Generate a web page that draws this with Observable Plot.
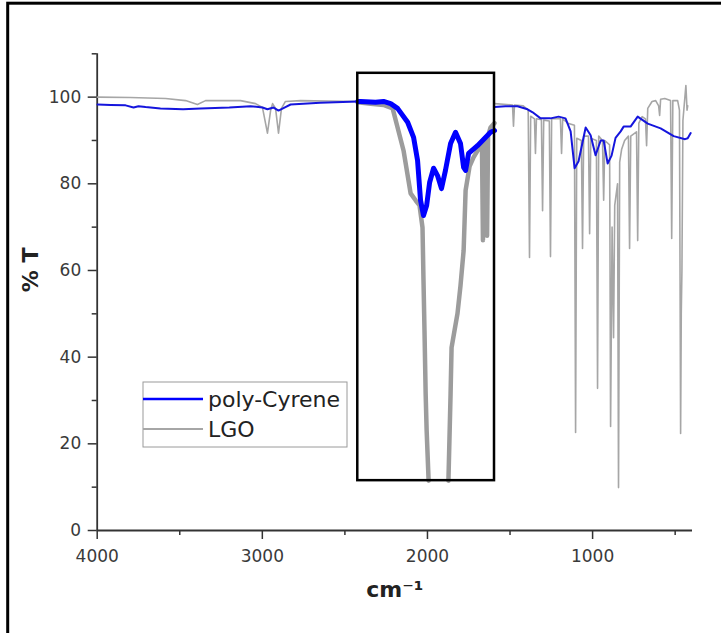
<!DOCTYPE html>
<html>
<head>
<meta charset="utf-8">
<script src="https://cdn.jsdelivr.net/npm/d3@7"></script>
<script src="https://cdn.jsdelivr.net/npm/@observablehq/plot@0.6"></script>
<style>
  body { margin: 0; background: #fff; }
  #chart { width: 721px; height: 633px; overflow: hidden; }
</style>
</head>
<body>
<div id="chart"></div>
<script>
// ---------- data ----------
const seriesNames = ["poly-Cyrene", "LGO"];
const xTicks = [4000, 3000, 2000, 1000];
const xMinorTicks = [3500, 2500, 1500, 500];
const yTicks = [0, 20, 40, 60, 80, 100];
const yMinorTicks = [10, 30, 50, 70, 90, 110];

// main (thin) spectra; null = hidden behind the inset
const cyreneWn = [3998, 3919, 3828, 3780, 3750, 3707, 3617, 3480, 3374, 3200, 3071, 2999, 2969, 2932, 2902, 2866, 2829, 2650, 2422, 2000,
  1594, 1528, 1479, 1455, 1394, 1363, 1315, 1255, 1206, 1164, 1133, 1109, 1085, 1042, 1012, 982, 951, 933, 909, 885, 861, 830, 812, 770, 727, 666, 588, 509, 440, 424, 406];
const cyreneT = [98.3, 98.2, 98.1, 97.6, 97.9, 97.7, 97.4, 97.2, 97.4, 97.6, 97.9, 97.6, 97.2, 97.6, 96.9, 97.6, 98.3, 98.7, 99.0, null,
  97.7, 97.9, 97.9, 97.9, 97.2, 96.5, 95.1, 95.1, 95.5, 95.1, 92.1, 83.6, 85.2, 93.0, 91.2, 86.6, 90.0, 90.0, 84.7, 86.5, 90.6, 92.1, 93.2, 93.2, 95.5, 93.9, 92.8, 91.0, 90.3, 90.5, 91.7];

const lgoWn = [3998, 3800, 3586, 3465, 3393, 3344, 3132, 3041, 2999, 2969, 2950, 2938, 2920, 2902, 2884, 2860, 2768, 2600, 2422, 2000,
  1594, 1520, 1485, 1479, 1473, 1420, 1390, 1382, 1375, 1352, 1346, 1340, 1310, 1303, 1296, 1262, 1255, 1248, 1195, 1188, 1181,
  1150, 1110, 1103, 1096, 1068, 1061, 1054, 1025, 1018, 1011, 977, 970, 963, 940, 933, 926, 897, 891, 882, 873, 866, 849, 843, 836,
  824, 806, 783, 776, 769, 734, 727, 720, 700, 680, 673, 666, 640, 618, 600, 594, 588, 563, 528, 521, 514, 485, 474, 467, 463, 459,
  453, 435, 428, 424];
const lgoT = [100.0, 99.9, 99.7, 99.2, 98.3, 99.2, 99.2, 98.5, 97.6, 91.7, 96.9, 98.5, 97.4, 91.7, 97.4, 99.0, 99.2, 99.1, 99.0, null,
  98.5, 98.3, 98.2, 93.3, 98.2, 98.0, 97.0, 63.0, 95.6, 95.0, 87.0, 95.0, 94.8, 73.8, 94.7, 94.5, 63.2, 95.0, 95.0, 87.0, 95.0,
  94.0, 93.5, 22.6, 90.5, 90.0, 65.1, 91.0, 91.0, 68.5, 90.5, 90.0, 32.8, 91.0, 90.0, 76.2, 90.0, 89.0, 24.0, 70.0, 44.5, 75.0, 80.0, 9.9, 85.0,
  88.0, 90.0, 91.0, 65.1, 91.0, 92.0, 66.9, 94.0, 95.5, 95.0, 88.8, 97.4, 99.0, 99.2, 98.0, 95.8, 99.5, 99.7, 99.2, 67.4, 99.2, 99.2, 97.0, 22.4, 50.0, 60.0,
  94.6, 102.7, 97.0, 98.0];

// inset (thick) spectra, 2422–1594 cm-1
const insetCyreneWn = [2422, 2405, 2314, 2266, 2223, 2181, 2120, 2084, 2060, 2042, 2024, 2005, 1987, 1963, 1939, 1915, 1891, 1860, 1830, 1800, 1781, 1769, 1751, 1697, 1618, 1594];
const insetCyreneT = [99.0, 99.0, 98.8, 99.0, 98.5, 97.4, 94.2, 90.7, 85.4, 76.2, 72.7, 75.0, 80.3, 83.6, 81.9, 78.9, 83.1, 89.3, 91.9, 89.3, 83.8, 83.1, 87.0, 88.8, 91.9, 92.3];
const insetLgoWn = [2422, 2344, 2266, 2211, 2181, 2145, 2102, 2072, 2048, 2030, 2024, 2018, 2011, 2005, 1993, 1930, 1873, 1860, 1854, 1836, 1818, 1800, 1781, 1769, 1745, 1721, 1691, 1670, 1664, 1658, 1645, 1639, 1633, 1618, 1594];
const insetLgoT = [98.8, 98.5, 98.2, 97.4, 93.0, 87.7, 77.8, 76.2, 75.0, 69.9, 57.7, 46.2, 31.6, 23.1, 11.5, null, 11.5, 31.6, 42.2, 46.2, 50.1, 56.5, 64.6, 78.5, 84.0, 86.1, 88.0, 89.0, 67.0, 89.5, 90.0, 68.0, 91.0, 93.0, 94.0];

// inset box extent (data units)
const insetWn = [2422, 1594];
const insetT = [11.5, 105.5];

// ---------- build ----------
const toRows = (w, t) => w.map((x, i) => ({wn: x, t: t[i]}));
const cyrene = toRows(cyreneWn, cyreneT);
const lgo = toRows(lgoWn, lgoT);
const insetCyrene = toRows(insetCyreneWn, insetCyreneT);
const insetLgo = toRows(insetLgoWn, insetLgoT);
const box = [{x1: insetWn[0], x2: insetWn[1], y1: insetT[0], y2: insetT[1]}];

const axisColor = "#333";
const blue = "#0000ff";
const gray = "#a6a6a6";

const chart = Plot.plot({
  width: 721,
  height: 633,
  marginLeft: 96.7,
  marginRight: 29,
  marginTop: 53.3,
  marginBottom: 103,
  x: {domain: [4000, 395]},
  y: {domain: [0, 110]},
  style: {fontFamily: "DejaVu Sans", background: "white", color: axisColor},
  marks: [
    // axes
    Plot.axisX({ticks: xTicks, tickSize: 9, tickPadding: 10, fontSize: 17, tickFormat: d => String(d), label: null, stroke: axisColor, strokeWidth: 1.5, fill: "#3a3a3a"}),
    Plot.axisX({ticks: xMinorTicks, tickSize: 5, tickFormat: () => "", label: null, stroke: axisColor, strokeWidth: 1.5}),
    Plot.axisY({ticks: yTicks, tickSize: 9, tickPadding: 7, fontSize: 17, tickFormat: d => String(d), label: null, stroke: axisColor, strokeWidth: 1.5, fill: "#3a3a3a"}),
    Plot.axisY({ticks: yMinorTicks, tickSize: 5, tickFormat: () => "", label: null, stroke: axisColor, strokeWidth: 1.5}),
    Plot.ruleY([0], {x1: 4000, x2: 395, stroke: axisColor, strokeWidth: 1.8}),
    Plot.ruleX([4000], {y1: 0, y2: 110, stroke: axisColor, strokeWidth: 1.8}),
    // main spectra
    Plot.line(lgo, {x: "wn", y: "t", stroke: gray, strokeWidth: 1.6, strokeLinejoin: "round"}),
    Plot.line(cyrene, {x: "wn", y: "t", stroke: "#1515dd", strokeWidth: 2, strokeLinejoin: "round"}),
    // inset
    Plot.rect(box, {x1: "x1", x2: "x2", y1: "y1", y2: "y2", fill: "white", stroke: "none"}),
    Plot.line(insetLgo, {x: "wn", y: "t", stroke: "#9c9c9c", strokeWidth: 4.5, strokeLinejoin: "round"}),
    Plot.line(insetCyrene, {x: "wn", y: "t", stroke: blue, strokeWidth: 5, strokeLinejoin: "round"}),
    Plot.rect(box, {x1: "x1", x2: "x2", y1: "y1", y2: "y2", fill: "none", stroke: "black", strokeWidth: 2.5}),
    // axis titles
    Plot.text(["% T"], {text: d => d, frameAnchor: "left", dx: -66, rotate: -90, fontSize: 22, fontWeight: "bold", fill: "#222"}),
    Plot.text(["cm⁻¹"], {text: d => d, frameAnchor: "bottom", dy: 66, fontSize: 22, fontWeight: "bold", fill: "#222"})
  ]
});

// legend + outer frame (decorations)
const svg = d3.select(chart);
const lg = svg.append("g").attr("font-family", "DejaVu Sans").attr("font-size", 22)
  .attr("fill", "#222").attr("text-anchor", "start");
lg.append("rect").attr("x", 143).attr("y", 382).attr("width", 204).attr("height", 65)
  .attr("fill", "white").attr("stroke", "#9a9a9a").attr("stroke-width", 1);
const legendStyles = [{stroke: blue, width: 2.5}, {stroke: gray, width: 2}];
seriesNames.forEach((name, i) => {
  const y = 399 + i * 30;
  lg.append("line").attr("x1", 143).attr("x2", 203).attr("y1", y).attr("y2", y)
    .attr("stroke", legendStyles[i].stroke).attr("stroke-width", legendStyles[i].width);
  lg.append("text").attr("x", 208).attr("y", y + 8).attr("text-anchor", "start").text(name);
});
svg.append("rect").attr("x", 7.7).attr("y", 3.2).attr("width", 900).attr("height", 900)
  .attr("fill", "none").attr("stroke", "black").attr("stroke-width", 3);

document.getElementById("chart").appendChild(chart);
</script>
</body>
</html>
